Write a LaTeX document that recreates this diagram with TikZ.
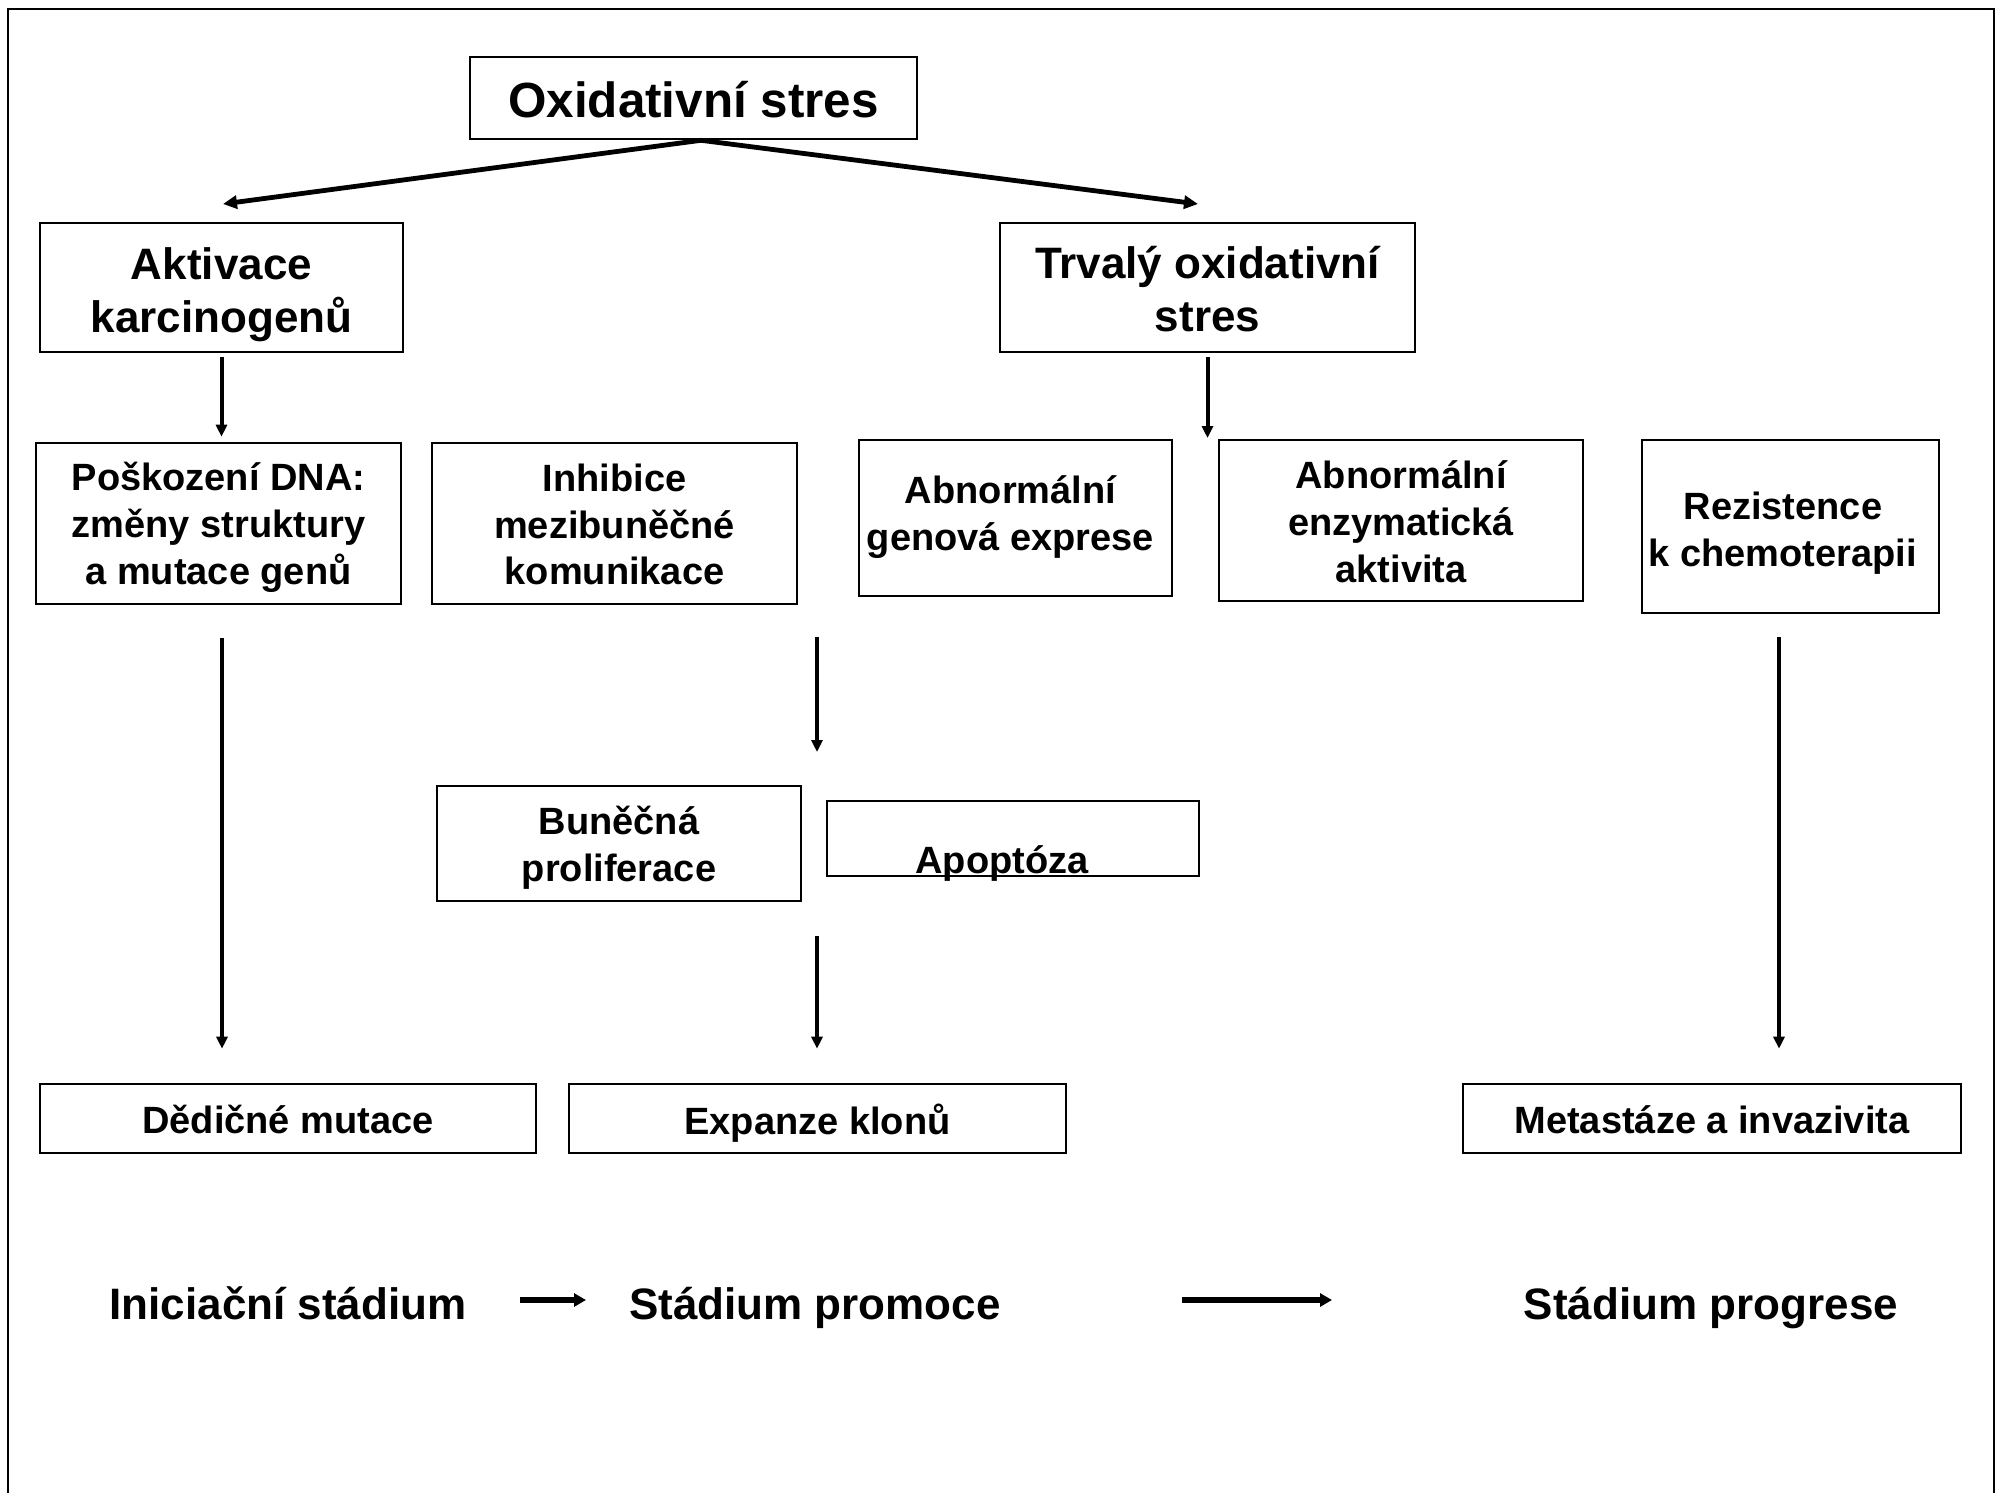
\documentclass[tikz,border=0pt]{standalone}
\usepackage{fontspec}
\setmainfont{Liberation Sans}
\usetikzlibrary{arrows.meta}
\begin{document}
\begin{tikzpicture}[x=0.5pt,y=-0.5pt,
  box/.style={draw, line width=1.3pt, inner sep=0pt},
  lab/.style={inner sep=0pt, align=center, font=\bfseries\fontsize{19}{23.3}\selectfont},
  biglab/.style={lab, font=\bfseries\fontsize{22}{26.4}\selectfont},
  titlelab/.style={lab, font=\bfseries\fontsize{24.7}{30}\selectfont},
  stage/.style={inner sep=0pt, anchor=base, font=\bfseries\fontsize{22}{26.2}\selectfont},
  arr/.style={line width=2pt, -{Triangle[length=6pt,width=5.5pt]}},
  toparr/.style={line width=2.4pt, -{Triangle[length=7pt,width=6.5pt]}},
  stagearr/.style={line width=2.8pt, -{Triangle[length=6pt,width=6.5pt]}},
]
\useasboundingbox (0,0) rectangle (2002,1493);
\draw[line width=1.3pt] (8,1500) -- (8,9) -- (1994,9) -- (1994,1500);

\node[box, minimum width=223.5pt, minimum height=41pt,
  label={[titlelab, yshift=-0.6pt]center:Oxidativní stres}] (ox) at (693.5,98) {};
\node[box, minimum width=181.5pt, minimum height=64.5pt,
  label={[biglab, yshift=-3.5pt]center:{Aktivace\\karcinogenů}}] (akt) at (221.5,287.5) {};
\node[box, minimum width=207.5pt, minimum height=64.5pt,
  label={[biglab, yshift=-0.8pt]center:{Trvalý oxidativní\\stres}}] (trv) at (1207.5,287.5) {};

\node[box, minimum width=182.5pt, minimum height=80.5pt,
  label={[lab, yshift=-1.9pt]center:{Poškození DNA:\\změny struktury\\a mutace genů}}] (dna) at (218.5,523.5) {};
\node[box, minimum width=182.5pt, minimum height=80.5pt,
  label={[lab, yshift=-0.6pt]center:{Inhibice\\mezibuněčné\\komunikace}}] (inh) at (614.5,523.5) {};
\node[box, minimum width=156.5pt, minimum height=78pt,
  label={[lab, xshift=-2.5pt, yshift=0.6pt]center:{Abnormální\\genová exprese}}] (gen) at (1015.5,518) {};
\node[box, minimum width=182pt, minimum height=80.5pt,
  label={[lab, yshift=-0.6pt]center:{Abnormální\\enzymatická\\aktivita}}] (enz) at (1401,520.5) {};
\node[box, minimum width=148.5pt, minimum height=86.5pt,
  label={[lab, xshift=-3.8pt, yshift=-3.2pt]center:{Rezistence\\k chemoterapii}}] (rez) at (1790.5,526.5) {};

\node[box, minimum width=182pt, minimum height=57.5pt,
  label={[lab, yshift=-2.2pt]center:{Buněčná\\proliferace}}] (pro) at (619,843.5) {};
\node[box, minimum width=186pt, minimum height=37.5pt] (apo) at (1013,838.5) {};
\node[lab, anchor=base] (apot) at (1002,873) {Apoptóza};

\node[box, minimum width=248pt, minimum height=34.5pt,
  label={[lab, yshift=-0.6pt]center:Dědičné mutace}] (ded) at (288,1118.5) {};
\node[box, minimum width=248.5pt, minimum height=34.5pt,
  label={[lab, yshift=-2.5pt]center:Expanze klonů}] (exp) at (817.5,1118.5) {};
\node[box, minimum width=249pt, minimum height=34.5pt,
  label={[lab, yshift=-0.6pt]center:Metastáze a invazivita}] (met) at (1712,1118.5) {};

\node[stage] (ini) at (288,1319) {Iniciační stádium};
\node[stage] (prm) at (815,1319) {Stádium promoce};
\node[stage] (prg) at (1711,1319) {Stádium progrese};

% top arrows
\coordinate (tl) at (223,204);
\coordinate (tr) at (1198,204);
\draw[toparr] ([xshift=3.75pt]ox.south) -- (tl);
\draw[toparr] ([xshift=3.75pt]ox.south) -- (tr);

% short vertical arrows
\draw[arr] ([yshift=-2pt]akt.south) -- ([yshift=2.5pt]akt.south |- dna.north);
\coordinate (t1) at (1207.5,438);
\draw[arr] ([yshift=-2pt]trv.south) -- (t1);

% long arrows
\draw[arr, shorten <=16.5pt, shorten >=17pt] ([xshift=1.75pt]dna.south) -- ([xshift=1.75pt]dna.south |- ded.north);
\coordinate (m1) at (817,637);
\coordinate (m2) at (817,752);
\draw[arr] (m1) -- (m2);
\coordinate (m3) at (817,936);
\draw[arr, shorten >=17pt] (m3) -- (m3 |- exp.north);
\coordinate (r1) at (1779,637);
\draw[arr, shorten >=17pt] (r1) -- (r1 |- met.north);

% stage arrows
\coordinate (s1) at (520,1300);
\coordinate (s2) at (586,1300);
\draw[stagearr] (s1) -- (s2);
\coordinate (s3) at (1182,1300);
\coordinate (s4) at (1332,1300);
\draw[stagearr] (s3) -- (s4);
\end{tikzpicture}
\end{document}
